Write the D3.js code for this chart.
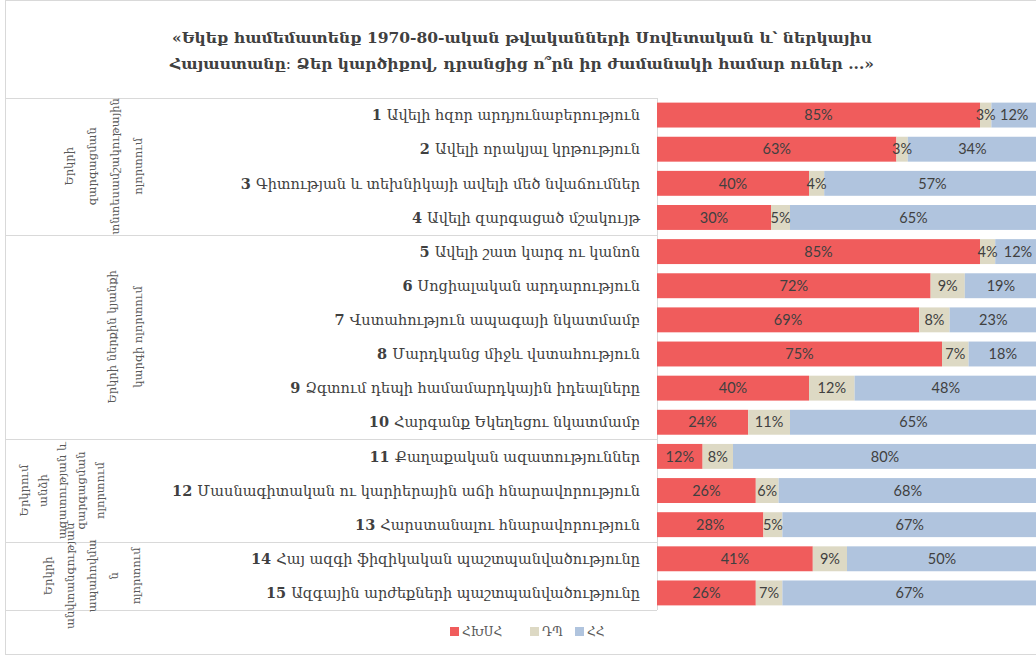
<!DOCTYPE html>
<html><head><meta charset="utf-8">
<script src="https://cdn.jsdelivr.net/npm/d3@7"></script>
<style>
html,body{margin:0;padding:0;background:#fff;}
svg{display:block;}
</style></head>
<body>
<svg id="chart" width="1036" height="657"></svg>
<script>
const titleLines = [
  "«Եկեք համեմատենք 1970-80-ական թվականների Սովետական և՝ ներկայիս",
  "Հայաստանը։ Ձեր կարծիքով, դրանցից ո՞րն իր ժամանակի համար ուներ ...»"
];
const itemNumbers = ["1","2","3","4","5","6","7","8","9","10","11","12","13","14","15"];
const itemLabels = [
  "Ավելի հզոր արդյունաբերություն",
  "Ավելի որակյալ կրթություն",
  "Գիտության և տեխնիկայի ավելի մեծ նվաճումներ",
  "Ավելի զարգացած մշակույթ",
  "Ավելի շատ կարգ ու կանոն",
  "Սոցիալական արդարություն",
  "Վստահություն ապագայի նկատմամբ",
  "Մարդկանց միջև վստահություն",
  "Ձգտում դեպի համամարդկային իդեալները",
  "Հարգանք Եկեղեցու նկատմամբ",
  "Քաղաքական ազատություններ",
  "Մասնագիտական ու կարիերային աճի հնարավորություն",
  "Հարստանալու հնարավորություն",
  "Հայ ազգի ֆիզիկական պաշտպանվածությունը",
  "Ազգային արժեքների պաշտպանվածությունը"
];
const seriesNames = ["ՀԽՍՀ", "ԴՊ", "ՀՀ"];
const valuesArmSSR = [85, 63, 40, 30, 85, 72, 69, 75, 40, 24, 12, 26, 28, 41, 26];
const valuesDK     = [3, 3, 4, 5, 4, 9, 8, 7, 12, 11, 8, 6, 5, 9, 7];
const valuesRA     = [12, 34, 57, 65, 12, 19, 23, 18, 48, 65, 80, 68, 67, 50, 67];
const groupLabels = [
  ["Երկրի", "զարգացման", "տնտեսամշակութային", "ոլորտում"],
  ["Երկրի ներքին կյանքի", "կարգի ոլորտում"],
  ["Երկրում", "անձի", "ազատության և", "զարգացման", "ոլորտում"],
  ["Երկրի", "անվտանգության", "ապահովմա", "ն", "ոլորտում"]
];
const groupSizes = [4, 6, 3, 2];

// layout (not data)
const colors = ["#F05C5C", "#DDD9C4", "#B0C4DE"];
const groupLabelX = [103, 125, 62, 92];
const groupLineGap = [23, 26, 19, 22];
const W = 1036, H = 657;
const barLeft = 657, barRight = 1037;
const plotTop = 98, plotBottom = 610;
const labelRight = 640;

const svg = d3.select("#chart");
const serif = "'DejaVu Serif', 'DejaVu Sans', serif";

// outer border
svg.append("rect").attr("x", 5.5).attr("y", 0.5).attr("width", W + 10).attr("height", H - 3)
  .attr("fill", "none").attr("stroke", "#D9D9D9");

// title
svg.append("g").selectAll("text").data(titleLines).join("text")
  .attr("x", 522).attr("y", (d, i) => 43 + i * 26)
  .attr("text-anchor", "middle")
  .attr("font-family", serif).attr("font-size", 15.5).attr("font-weight", "bold")
  .attr("fill", "#404040")
  .text(d => d);

const y = d3.scaleBand().domain(itemNumbers).range([plotTop, plotBottom]).paddingInner(0.27).paddingOuter(0.135);
const x = d3.scaleLinear().domain([0, 100]).range([barLeft, barRight]);

const rows = itemNumbers.map((n, i) => ({
  n, label: itemLabels[i],
  vals: [valuesArmSSR[i], valuesDK[i], valuesRA[i]]
}));
const stackData = rows.map(r => ({n: r.n, s0: r.vals[0], s1: r.vals[1], s2: r.vals[2]}));
const stack = d3.stack().keys(["s0", "s1", "s2"])(stackData);

// group separators
let acc = 0;
const bounds = [0];
groupSizes.forEach(s => { acc += s; bounds.push(acc); });
const step = y.step();
const gridG = svg.append("g").attr("stroke", "#D9D9D9").attr("stroke-width", 1);
bounds.forEach(b => {
  const yy = Math.round(plotTop + b * step) + 0.5;
  gridG.append("line").attr("x1", 5).attr("x2", barLeft).attr("y1", yy).attr("y2", yy);
});
gridG.append("line").attr("x1", barLeft + 0.5).attr("x2", barLeft + 0.5).attr("y1", plotTop).attr("y2", plotBottom);

// bars
const segG = svg.append("g");
stack.forEach((layer, k) => {
  segG.append("g").attr("fill", colors[k]).selectAll("rect").data(layer).join("rect")
    .attr("x", d => x(d[0])).attr("width", d => x(d[1]) - x(d[0]))
    .attr("y", d => y(d.data.n)).attr("height", y.bandwidth());
});
// data labels
stack.forEach((layer, k) => {
  segG.append("g").selectAll("text").data(layer).join("text")
    .attr("x", d => (x(d[0]) + x(d[1])) / 2)
    .attr("y", d => y(d.data.n) + y.bandwidth() / 2)
    .attr("dy", "0.36em").attr("text-anchor", "middle")
    .attr("font-family", "Lato, 'Liberation Sans', sans-serif").attr("font-size", 14.5)
    .attr("fill", "#404040")
    .text(d => (d[1] - d[0]) + "%");
});

// category labels
const labG = svg.append("g");
rows.forEach(r => {
  const t = labG.append("text")
    .attr("x", labelRight).attr("y", y(r.n) + y.bandwidth() / 2).attr("dy", "0.36em")
    .attr("text-anchor", "end").attr("font-family", serif).attr("font-size", 14.5)
    .attr("fill", "#404040");
  t.append("tspan").attr("font-weight", "bold").text(r.n + " ");
  t.append("tspan").text(r.label);
});

// group labels (rotated)
groupLabels.forEach((lines, g) => {
  const cy = plotTop + (bounds[g] + bounds[g + 1]) / 2 * step;
  const cx = groupLabelX[g];
  const gap = groupLineGap[g];
  const n = lines.length;
  const gg = svg.append("g").attr("transform", `translate(${cx},${cy}) rotate(-90)`);
  lines.forEach((ln, i) => {
    gg.append("text")
      .attr("x", 0).attr("y", (i - (n - 1) / 2) * gap)
      .attr("dy", "0.36em").attr("text-anchor", "middle")
      .attr("font-family", serif).attr("font-size", 11.5)
      .attr("fill", "#595959").text(ln);
  });
});

// legend
const legendX = [450, 530, 575];
const lg = svg.append("g");
seriesNames.forEach((s, i) => {
  lg.append("rect").attr("x", legendX[i]).attr("y", 627).attr("width", 9).attr("height", 9).attr("fill", colors[i]);
  lg.append("text").attr("x", legendX[i] + 12).attr("y", 632).attr("dy", "0.36em")
    .attr("font-family", serif).attr("font-size", 12).attr("fill", "#595959").text(s);
});
</script>
</body></html>
